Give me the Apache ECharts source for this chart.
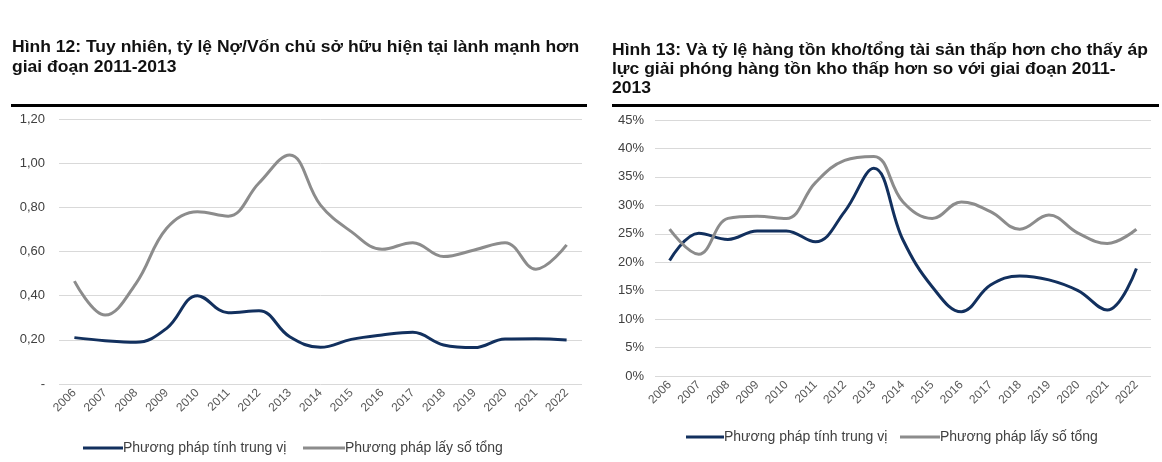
<!DOCTYPE html>
<html><head><meta charset="utf-8">
<script src="https://cdn.jsdelivr.net/npm/echarts@6/dist/echarts.min.js"></script>
<style>html,body{margin:0;padding:0;background:#fff}#c{width:1162px;height:462px}</style>
</head><body><div id="c"></div>
<script>
const years = ['2006','2007','2008','2009','2010','2011','2012','2013','2014','2015','2016','2017','2018','2019','2020','2021','2022'];
const seriesNames = ['Phương pháp tính trung vị', 'Phương pháp lấy số tổng'];
// Hình 12: Nợ/Vốn chủ sở hữu
const debtMedian = [0.21,0.196,0.189,0.252,0.40,0.323,0.332,0.214,0.166,0.202,0.222,0.234,0.177,0.165,0.204,0.205,0.199];
const debtTotal  = [0.466,0.312,0.455,0.705,0.78,0.76,0.91,1.037,0.81,0.69,0.61,0.64,0.577,0.607,0.64,0.52,0.63];
// Hình 13: Hàng tồn kho/tổng tài sản (%)
const invMedian = [20.3,25.1,24.0,25.5,25.5,23.6,28.9,36.5,23.9,15.7,11.3,16.0,17.6,16.9,15.0,11.6,18.9];
const invTotal  = [25.8,21.4,27.7,28.1,27.7,34.0,37.9,38.6,30.6,27.7,30.6,28.9,25.8,28.3,25.1,23.3,25.8];
const title12 = ['Hình 12: Tuy nhiên, tỷ lệ Nợ/Vốn chủ sở hữu hiện tại lành mạnh hơn', 'giai đoạn 2011-2013'];
const title13 = ['Hình 13: Và tỷ lệ hàng tồn kho/tổng tài sản thấp hơn cho thấy áp', 'lực giải phóng hàng tồn kho thấp hơn so với giai đoạn 2011-', '2013'];

const NAVY = '#12305e', GRAY = '#8c8c8c';
const FONT = '"Liberation Sans", Arial, sans-serif';
const chart = echarts.init(document.getElementById('c'));
const txt = (x, y, text, font, fill, sx) => ({
  type: 'text', x, y, scaleX: sx, silent: true,
  style: {text, font, fill, align: 'left', verticalAlign: 'middle'}
});
const graphics = [
  {type: 'rect', shape: {x: 11, y: 104, width: 576, height: 3}, style: {fill: '#000'}},
  {type: 'rect', shape: {x: 612, y: 104, width: 547, height: 3}, style: {fill: '#000'}}
];
title12.forEach((t, i) => graphics.push(txt(12, 47 + i * 20, t, 'bold 17px ' + FONT, '#111', 1.03)));
title13.forEach((t, i) => graphics.push(txt(612, 50 + i * 19, t, 'bold 17px ' + FONT, '#111', 1.03)));
// legends
const legendItem = (x1, w, y, color, label) => [
  {type: 'rect', shape: {x: x1, y: y - 1.5, width: w, height: 3}, style: {fill: color}},
  txt(x1 + w, y, label, '14px ' + FONT, '#404040', 1.0)
];
graphics.push(...legendItem(83, 40, 448, NAVY, seriesNames[0]));
graphics.push(...legendItem(303, 42, 448, GRAY, seriesNames[1]));
graphics.push(...legendItem(686, 38, 437, NAVY, seriesNames[0]));
graphics.push(...legendItem(900, 40, 437, GRAY, seriesNames[1]));

const xAx = (gi) => ({
  type: 'category', gridIndex: gi, data: years, boundaryGap: true,
  axisLine: {show: false}, axisTick: {show: false},
  axisLabel: {rotate: 45, fontSize: 12, color: '#595959', fontFamily: FONT, margin: 7, interval: 0}
});
const ser = (name, data, gi, color) => ({
  name, type: 'line', xAxisIndex: gi, yAxisIndex: gi, data, smooth: 0.4,
  showSymbol: false, lineStyle: {color, width: 3}, itemStyle: {color}
});
chart.setOption({
  animation: false,
  textStyle: {fontFamily: FONT},
  graphic: graphics,
  grid: [
    {left: 59, right: 580, top: 119, bottom: 78},
    {left: 655, right: 11, top: 120, bottom: 86}
  ],
  xAxis: [xAx(0), xAx(1)],
  yAxis: [
    {type: 'value', gridIndex: 0, min: 0, max: 1.2, interval: 0.2,
     axisLabel: {fontSize: 13, color: '#404040', margin: 14, formatter: v => v === 0 ? '-' : v.toFixed(2).replace('.', ',')},
     splitLine: {lineStyle: {color: '#d9d9d9'}}},
    {type: 'value', gridIndex: 1, min: 0, max: 45, interval: 5,
     axisLabel: {fontSize: 13, color: '#404040', margin: 11, formatter: v => v + '%'},
     splitLine: {lineStyle: {color: '#d9d9d9'}}}
  ],
  series: [
    ser(seriesNames[0], debtMedian, 0, NAVY),
    ser(seriesNames[1], debtTotal, 0, GRAY),
    ser(seriesNames[0], invMedian, 1, NAVY),
    ser(seriesNames[1], invTotal, 1, GRAY)
  ]
});
</script></body></html>
